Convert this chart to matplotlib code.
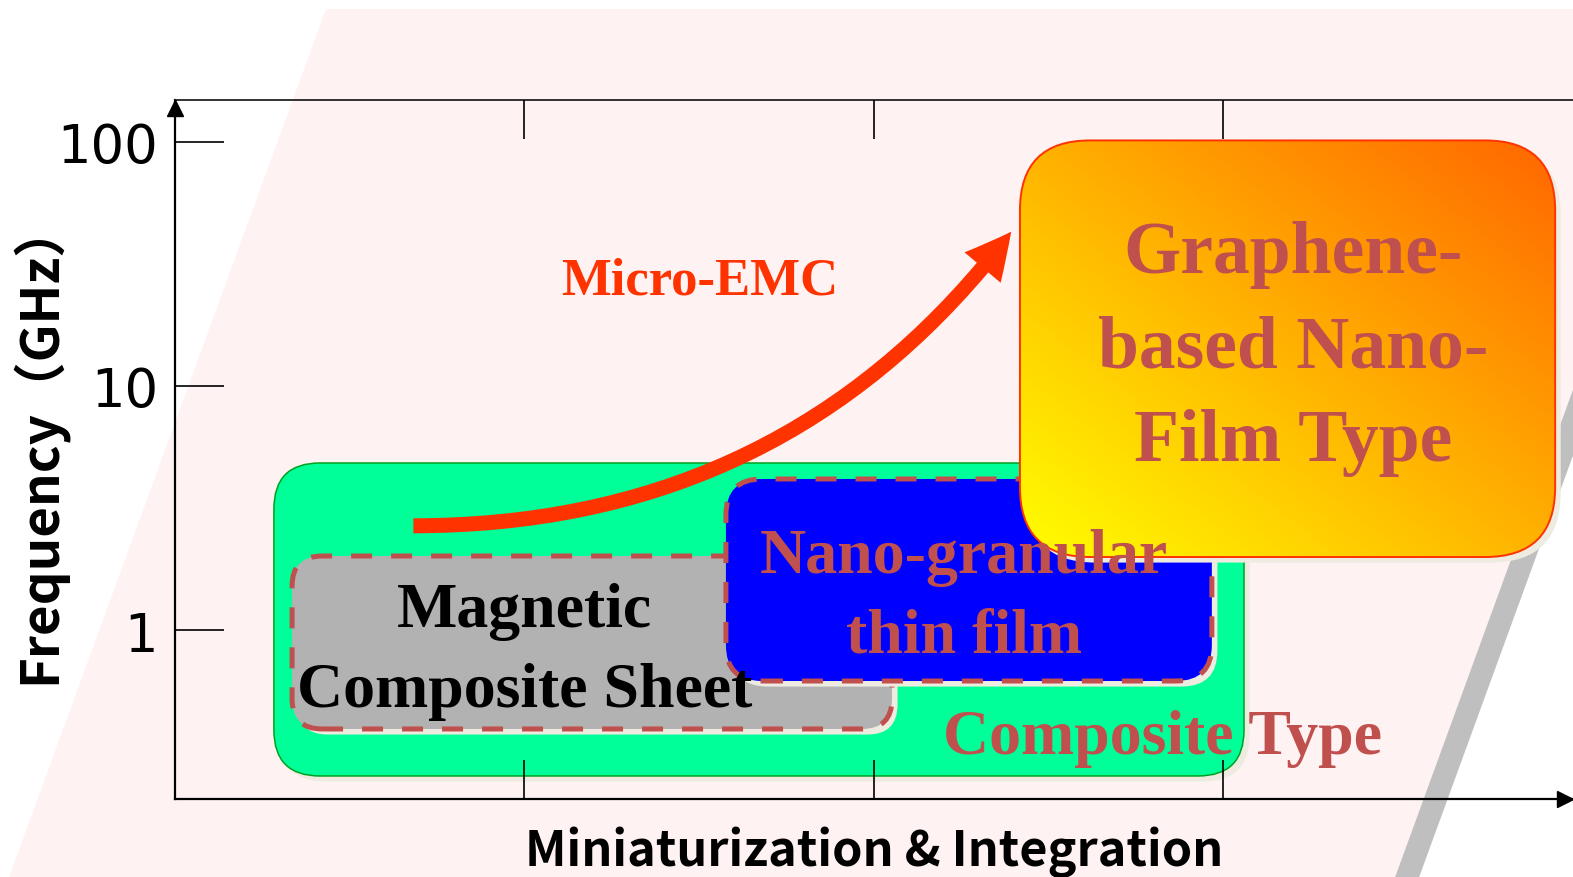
import numpy as np
import matplotlib
matplotlib.use("Agg")
import matplotlib.pyplot as plt
import matplotlib.transforms as mtransforms
from matplotlib.patches import FancyBboxPatch, Polygon, FancyArrowPatch, ArrowStyle
from matplotlib.path import Path
from matplotlib import patheffects as pe
from matplotlib.ticker import NullLocator
from matplotlib import font_manager as fm

# ---- axis scales ----
freq_ticks = [1, 10, 100]
freq_tick_labels = ["1", "10", "100"]
integration_ticks = [1, 2, 3]
x_limits = (0.0, 4.0)
freq_limits = (0.2045, 147.7)

# ---- technology regions (miniaturization span, frequency span in GHz) ----
region_keys = ["composite", "sheet", "nanogranular", "graphene"]
region_x0 = [0.284, 0.336, 1.577, 2.418]
region_x1 = [3.059, 2.052, 2.967, 3.949]
region_f0 = [0.2533, 0.3945, 0.620, 1.995]
region_f1 = [4.84, 2.014, 4.163, 101.2]

# ---- region labels (anchored at the baseline of the last line) ----
label_texts = ["Composite Type", "Magnetic\nComposite Sheet",
               "Nano-granular\nthin film", "Graphene-\nbased Nano-\nFilm Type"]
label_x = [2.825, 1.0, 2.258, 3.199]
label_f = [0.3131, 0.490, 0.815, 4.955]

# ---- trend arrow: start, control point, tip ----
trend_x = [0.683, 1.756, 2.393]
trend_f = [2.678, 2.678, 42.8]
trend_label = "Micro-EMC"
trend_label_x = 1.503
trend_label_f = 24.0

x_title = "Miniaturization & Integration"
y_title = "Frequency（GHz）"


def pick_font(*names):
    available = {f.name for f in fm.fontManager.ttflist}
    for n in names:
        if n in available:
            return n
    return "DejaVu Sans"


SERIF = pick_font("Liberation Serif", "DejaVu Serif")
GOTHIC = pick_font("Noto Sans CJK JP", "Noto Sans")
TICKFONT = pick_font("DejaVu Sans")

W, H = 1573, 878
fig = plt.figure(figsize=(W / 100, H / 100), dpi=100, facecolor="white")


def fig_xy(px, py):
    return (px / W, 1 - py / H)


# Slanted pink backdrop with a grey drop edge
skew = 0.365
top_y, bot_y = 10, 900
left_top, right_top = 326, 1712
backdrop = [fig_xy(left_top, top_y), fig_xy(right_top, top_y),
            fig_xy(right_top - skew * (bot_y - top_y), bot_y),
            fig_xy(left_top - skew * (bot_y - top_y), bot_y)]
shadow = [(x + 24 / W, y) for x, y in backdrop]
fig.add_artist(Polygon(shadow, closed=True, transform=fig.transFigure,
                       facecolor="#BFBFBF", edgecolor="none", zorder=-2))
fig.add_artist(Polygon(backdrop, closed=True, transform=fig.transFigure,
                       facecolor="#FEF2F2", edgecolor="none", zorder=-1))

ax = fig.add_axes([0.111, 0.0892, 0.889, 0.7954])
ax.set_facecolor("none")
ax.set_yscale("log")
ax.set_xlim(*x_limits)
ax.set_ylim(*freq_limits)

# Axis frame
for side in ("left", "bottom"):
    ax.spines[side].set_linewidth(1.6)
    ax.spines[side].set_color("black")
ax.spines["top"].set_linewidth(1.3)
ax.spines["top"].set_color("#222222")
ax.spines["right"].set_visible(False)
for side in ax.spines:
    ax.spines[side].set_zorder(8)

ax.set_xticks(integration_ticks)
ax.set_xticklabels([])
ax.set_yticks(freq_ticks)
ax.set_yticklabels(freq_tick_labels, fontfamily=TICKFONT, fontsize=38)
ax.yaxis.set_minor_locator(NullLocator())
ax.xaxis.set_minor_locator(NullLocator())
ax.tick_params(axis="x", which="major", direction="in", top=True, bottom=True,
               length=28, width=1.2, color="black")
ax.tick_params(axis="y", which="major", direction="in", left=True, right=False,
               length=35, width=1.2, color="black", pad=12)
ax.xaxis.set_zorder(8)
ax.yaxis.set_zorder(8)

# Axis arrows
up = mtransforms.offset_copy(ax.transAxes, fig=fig, x=0, y=-7.5, units="dots")
ax.plot([0], [1], marker="^", ms=11.5, color="black", transform=up, clip_on=False, zorder=9)
rt = mtransforms.offset_copy(ax.transAxes, fig=fig, x=-8, y=0, units="dots")
ax.plot([1], [0], marker=">", ms=11.5, color="black", transform=rt, clip_on=False, zorder=9)

ax.set_xlabel(x_title, fontfamily=[GOTHIC, "DejaVu Sans"], fontweight="bold",
              fontsize=35, va="baseline")
ax.xaxis.set_label_coords(0.5, -0.0955)
ax.set_ylabel(y_title, fontfamily=[GOTHIC, "DejaVu Sans"], fontweight="bold",
              fontsize=38, va="center", ha="center")
ax.yaxis.set_label_coords(-0.0977, 0.513)

# Helpers to build rounded regions from data spans
pos = ax.get_position()
ax_w_px = pos.width * W
ax_h_px = pos.height * H
to_axes = ax.transData + ax.transAxes.inverted()


def region_box(i, radius_px, **kw):
    (ax0, ay0) = to_axes.transform((region_x0[i], region_f0[i]))
    (ax1, ay1) = to_axes.transform((region_x1[i], region_f1[i]))
    patch = FancyBboxPatch((ax0, ay0), ax1 - ax0, ay1 - ay0,
                           boxstyle=f"round,pad=0,rounding_size={radius_px / ax_w_px}",
                           mutation_aspect=ax_w_px / ax_h_px,
                           transform=ax.transAxes, **kw)
    ax.add_patch(patch)
    return patch, (ax0, ax1, ay0, ay1)


box_shadow = [pe.SimplePatchShadow(offset=(4, -4), shadow_rgbFace="#EEECE1", alpha=1.0),
              pe.Normal()]

region_box(0, 46, facecolor="#00FF99", edgecolor="#00A020", linewidth=1.1,
           zorder=1, path_effects=box_shadow)
region_box(1, 30, facecolor="#B2B2B2", edgecolor="#C0504D", linewidth=3.6,
           linestyle=(0, (4.2, 3.8)), zorder=2, path_effects=box_shadow)
region_box(2, 36, facecolor="#0000FF", edgecolor="#C0504D", linewidth=3.6,
           linestyle=(0, (4.2, 3.8)), zorder=3, path_effects=box_shadow)

# Graphene region: diagonal yellow-to-orange fill
g_patch, (gx0, gx1, gy0, gy1) = region_box(3, 70, facecolor="#FFD000", edgecolor="none",
                                           zorder=5, path_effects=box_shadow)
n = 256
u, v = np.meshgrid(np.linspace(0, 1, n), np.linspace(0, 1, n))
t = (u + v) / 2
c0 = np.array([1.0, 1.0, 0.0])
c1 = np.array([1.0, 0.40, 0.0])
grad = c0[None, None, :] * (1 - t[..., None]) + c1[None, None, :] * t[..., None]
im = ax.imshow(grad, origin="lower", extent=[gx0, gx1, gy0, gy1], transform=ax.transAxes,
               aspect="auto", zorder=5.1, interpolation="bilinear")
im.set_clip_path(g_patch)
region_box(3, 70, facecolor="none", edgecolor="#FF3300", linewidth=1.4, zorder=5.2)
ax.set_xlim(*x_limits)
ax.set_ylim(*freq_limits)

# Trend arrow
trend_path = Path(list(zip(trend_x, trend_f)), [Path.MOVETO, Path.CURVE3, Path.CURVE3])
arrow = FancyArrowPatch(path=trend_path,
                        arrowstyle=ArrowStyle("Simple", head_length=33, head_width=34,
                                              tail_width=10.8),
                        facecolor="#FF3300", edgecolor="none", linewidth=0,
                        transform=ax.transData, zorder=4)
ax.add_patch(arrow)
ax.text(trend_label_x, trend_label_f, trend_label, color="#FF3300", fontfamily=SERIF,
        fontweight="bold", fontsize=38, ha="center", va="baseline", zorder=10)

# Region labels
label_colors = ["#C0504D", "black", "#C0504D", "#C0504D"]
label_sizes = [46, 46, 46, 53]
for txt, lx, lf, col, fs in zip(label_texts, label_x, label_f, label_colors, label_sizes):
    ax.text(lx, lf, txt, color=col, fontfamily=SERIF, fontweight="bold", fontsize=fs,
            ha="center", va="baseline", multialignment="center", linespacing=1.5,
            zorder=10)

fig.savefig("out.png", dpi=100, facecolor="white")
